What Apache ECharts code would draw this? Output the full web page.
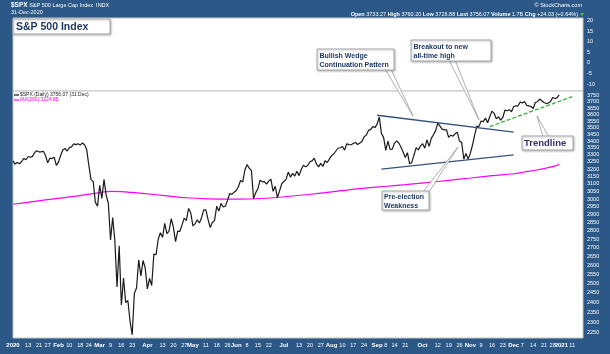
<!DOCTYPE html>
<html><head><meta charset="utf-8">
<script src="https://cdn.jsdelivr.net/npm/echarts@6/dist/echarts.min.js"></script>
<style>html,body{margin:0;padding:0;background:#2b5886}#c{width:610px;height:354px}</style>
</head><body><div id="c"></div>
<script>
// ---- trading days (day-of-month per month) ----
const janDays=[2,3,6,7,8,9,10,13,14,15,16,17,21,22,23,24,27,28,29,30,31];
const febDays=[3,4,5,6,7,10,11,12,13,14,18,19,20,21,24,25,26,27,28];
const marDays=[2,3,4,5,6,9,10,11,12,13,16,17,18,19,20,23,24,25,26,27,30,31];
const aprDays=[1,2,3,6,7,8,9,13,14,15,16,17,20,21,22,23,24,27,28,29,30];
const mayDays=[1,4,5,6,7,8,11,12,13,14,15,18,19,20,21,22,26,27,28,29];
const junDays=[1,2,3,4,5,8,9,10,11,12,15,16,17,18,19,22,23,24,25,26,29,30];
const julDays=[1,2,6,7,8,9,10,13,14,15,16,17,20,21,22,23,24,27,28,29,30,31];
const augDays=[3,4,5,6,7,10,11,12,13,14,17,18,19,20,21,24,25,26,27,28,31];
const sepDays=[1,2,3,4,8,9,10,11,14,15,16,17,18,21,22,23,24,25,28,29,30];
const octDays=[1,2,5,6,7,8,9,12,13,14,15,16,19,20,21,22,23,26,27,28,29,30];
const novDays=[2,3,4,5,6,9,10,11,12,13,16,17,18,19,20,23,24,25,27,30];
const decDays=[1,2,3,4,7,8,9,10,11,14,15,16,17,18,21,22,23,24,28,29,30,31];
const jan2021Days=[4,5,6,7,8,11,12,13,14,15,19];

// ---- $SPX daily closes ----
const closeJan=[3257.85,3234.85,3246.28,3237.18,3253.05,3274.70,3265.35,3288.13,3283.15,3289.29,3316.81,3329.62,3320.79,3321.75,3325.54,3295.47,3243.63,3276.24,3273.40,3283.66,3225.52];
const closeFeb=[3248.92,3297.59,3334.69,3345.78,3327.71,3352.09,3357.75,3379.45,3373.94,3380.16,3370.29,3386.15,3373.23,3337.75,3225.89,3128.21,3116.39,2978.76,2954.22];
const closeMar=[3090.23,3003.37,3130.12,3023.94,2972.37,2746.56,2882.23,2741.38,2480.64,2711.02,2386.13,2529.19,2398.10,2409.39,2304.92,2237.40,2447.33,2475.56,2630.07,2541.47,2626.65,2584.59];
const closeApr=[2470.50,2526.90,2488.65,2663.68,2659.41,2749.98,2789.82,2761.63,2846.06,2783.36,2799.55,2874.56,2823.16,2736.56,2799.31,2797.80,2836.74,2878.48,2863.39,2939.51,2912.43];
const closeMay=[2830.71,2842.74,2868.44,2848.42,2881.19,2929.80,2930.19,2870.12,2820.00,2852.50,2863.70,2953.91,2922.94,2971.61,2948.51,2955.45,2991.77,3036.13,3029.73,3044.31];
const closeJun=[3055.73,3080.82,3122.87,3112.35,3193.93,3232.39,3207.18,3190.14,3002.10,3041.31,3066.59,3124.74,3113.49,3115.34,3097.74,3117.86,3131.29,3050.33,3083.76,3009.05,3053.24,3100.29];
const closeJul=[3115.86,3130.01,3179.72,3145.32,3169.94,3152.05,3185.04,3155.22,3197.52,3226.56,3215.57,3224.73,3251.84,3257.30,3276.02,3235.66,3215.63,3239.41,3218.44,3258.44,3246.22,3271.12];
const closeAug=[3294.61,3306.51,3327.77,3349.16,3351.28,3360.47,3333.69,3380.35,3373.43,3372.85,3381.99,3389.78,3374.85,3385.51,3397.16,3431.28,3443.62,3478.73,3484.55,3508.01,3500.31];
const closeSep=[3526.65,3580.84,3455.06,3426.96,3331.84,3398.96,3339.19,3340.97,3383.54,3401.20,3385.49,3357.01,3319.47,3281.06,3315.57,3236.92,3246.59,3298.46,3351.60,3335.47,3363.00];
const closeOct=[3380.80,3348.42,3408.63,3360.97,3419.44,3446.83,3477.14,3534.22,3511.93,3488.67,3483.34,3483.81,3426.92,3443.12,3435.56,3453.49,3465.39,3400.97,3390.68,3271.03,3310.11,3269.96];
const closeNov=[3310.24,3369.16,3443.44,3510.45,3509.44,3550.50,3545.53,3572.66,3537.01,3585.15,3626.91,3609.53,3567.79,3581.87,3557.54,3577.59,3635.41,3629.65,3638.35,3621.63];
const closeDec=[3662.45,3669.01,3666.72,3699.12,3691.96,3702.25,3672.82,3668.10,3663.46,3647.49,3694.62,3701.17,3722.48,3709.41,3694.92,3687.26,3690.01,3703.06,3735.36,3727.04,3732.04,3756.07];

// ---- MA(200) ----
const maDates=["2020-01-02","2020-01-16","2020-01-31","2020-02-14","2020-03-02","2020-03-09","2020-03-16","2020-03-30","2020-04-14","2020-04-28","2020-05-12","2020-05-27","2020-06-10","2020-06-24","2020-07-09","2020-07-23","2020-08-06","2020-08-20","2020-09-04","2020-09-21","2020-10-05","2020-10-19","2020-11-02","2020-11-16","2020-12-01","2020-12-08","2020-12-15","2020-12-22","2020-12-30","2020-12-31"];
const maValues=[2966,2985,3003,3020,3042,3050,3048,3036,3022,3008,3001,2999,3000,3008,3021,3035,3052,3068,3082,3094,3108,3123,3139,3155,3168,3180,3192,3207,3226,3236];

// ---- annotations (data coordinates) ----
const wedgeUpper=[["2020-09-01",3595],["2020-12-01",3466]];
const wedgeLower=[["2020-09-03",3200],["2020-12-01",3300]];
const trendLine=[["2020-11-13",3508],["2021-01-11",3742]];

// ---- tick labels ----
const priceTicks=[2250,2300,2350,2400,2450,2500,2550,2600,2650,2700,2750,2800,2850,2900,2950,3000,3050,3100,3150,3200,3250,3300,3350,3400,3450,3500,3550,3600,3650,3700,3750];
const upperTicks=[-10,-5,0,5,10,15,20];
const xTickDates=["2020-01-02","2020-01-13","2020-01-21","2020-01-27","2020-02-03","2020-02-10","2020-02-18","2020-02-24","2020-03-02","2020-03-09","2020-03-16","2020-03-23","2020-04-01","2020-04-13","2020-04-20","2020-04-27","2020-05-01","2020-05-11","2020-05-18","2020-05-26","2020-06-01","2020-06-08","2020-06-15","2020-06-22","2020-07-01","2020-07-13","2020-07-20","2020-07-27","2020-08-03","2020-08-10","2020-08-17","2020-08-24","2020-09-01","2020-09-08","2020-09-14","2020-09-21","2020-10-01","2020-10-12","2020-10-19","2020-10-26","2020-11-02","2020-11-09","2020-11-16","2020-11-23","2020-12-01","2020-12-07","2020-12-14","2020-12-21","2020-12-28","2021-01-04","2021-01-11"];
const xTickLabels=["2020","13","21","27","Feb","10","18","24","Mar","9","16","23","Apr","13","20","27","May","11","18","26","Jun","8","15","22","Jul","13","20","27","Aug","10","17","24","Sep","8","14","21","Oct","12","19","26","Nov","9","16","23","Dec","7","14","21","28","2021","11"];

// ---- build ----
const pad=n=>String(n).padStart(2,'0');
const monthDays=[janDays,febDays,marDays,aprDays,mayDays,junDays,julDays,augDays,sepDays,octDays,novDays,decDays];
const cats=[];
monthDays.forEach((ds,m)=>ds.forEach(d=>cats.push('2020-'+pad(m+1)+'-'+pad(d))));
jan2021Days.forEach(d=>cats.push('2021-01-'+pad(d)));
const closes=[].concat(closeJan,closeFeb,closeMar,closeApr,closeMay,closeJun,closeJul,closeAug,closeSep,closeOct,closeNov,closeDec);
const maData=maDates.map((d,i)=>[d,maValues[i]]);
const labelMap={};
xTickDates.forEach((d,i)=>labelMap[d]=xTickLabels[i]);

const FF='"Liberation Sans", Arial, sans-serif';
const NAVY='#1f3a66';
const chart=echarts.init(document.getElementById('c'),null,{renderer:'canvas'});

function box(x,y,w,h){return {type:'rect',z:20,shape:{x:x,y:y,width:w,height:h},style:{fill:'#fff',stroke:'#a8a8a8',lineWidth:1,shadowBlur:2,shadowOffsetX:1,shadowOffsetY:1,shadowColor:'rgba(0,0,0,0.25)'}};}
function txt(l,t,s,o){return Object.assign({type:'text',z:21,left:l,top:t,style:Object.assign({text:s,fontFamily:FF,fill:NAVY,fontSize:7,fontWeight:'bold',lineHeight:9},o||{})});}
function ptr(pts){return {type:'polygon',z:19,shape:{points:pts},style:{fill:'#fff',stroke:'#9a9a9a',lineWidth:0.8}};}

chart.setOption({
  animation:false,
  backgroundColor:'#2b5886',
  grid:[
    {left:13,right:27,top:18,height:73,show:true,backgroundColor:'#fff',borderColor:'#c4c4c4',borderWidth:1},
    {left:13,right:27,top:91,bottom:16,show:true,backgroundColor:'#fff',borderColor:'#c4c4c4',borderWidth:1}
  ],
  xAxis:[
    {type:'category',gridIndex:0,data:cats,boundaryGap:false,show:false},
    {type:'category',gridIndex:1,data:cats,boundaryGap:false,
     axisLine:{show:false},axisTick:{show:false},splitLine:{show:false},
     axisLabel:{margin:4,interval:(i,v)=>labelMap[v]!==undefined,
       formatter:v=>{const t=labelMap[v];return (/^[A-Z]/.test(t)||/^\d{4}$/.test(t))?'{b|'+t+'}':'{n|'+t+'}';},
       rich:{b:{color:'#fff',fontSize:6,fontWeight:'bold',fontFamily:FF},n:{color:'#fff',fontSize:5.5,fontFamily:FF}}}}
  ],
  yAxis:[
    {type:'value',gridIndex:0,position:'right',min:-13.3,max:21.3,
     axisLine:{show:false},axisTick:{show:false},splitLine:{show:false},
     axisLabel:{customValues:upperTicks,color:'#fff',fontSize:5.5,margin:4,fontFamily:FF,formatter:v=>String(v)}},
    {type:'log',gridIndex:1,position:'right',min:2222,max:3788,
     axisLine:{show:false},axisTick:{show:false},splitLine:{show:false},
     axisLabel:{customValues:priceTicks,color:'#fff',fontSize:5.5,margin:4,fontFamily:FF,formatter:v=>String(Math.round(v))}}
  ],
  series:[
    {type:'line',xAxisIndex:0,yAxisIndex:0,data:[],silent:true},
    {type:'line',name:'MA(200)',xAxisIndex:1,yAxisIndex:1,data:maData,showSymbol:false,smooth:0.3,lineStyle:{color:'#ff00ff',width:1.2},z:3},
    {type:'line',name:'$SPX',xAxisIndex:1,yAxisIndex:1,data:closes,showSymbol:false,lineStyle:{color:'#1a1a1a',width:1.2},z:4},
    {type:'line',xAxisIndex:1,yAxisIndex:1,data:wedgeUpper,showSymbol:false,lineStyle:{color:'#34527f',width:1.4},z:5},
    {type:'line',xAxisIndex:1,yAxisIndex:1,data:wedgeLower,showSymbol:false,lineStyle:{color:'#34527f',width:1.4},z:5},
    {type:'line',xAxisIndex:1,yAxisIndex:1,data:trendLine,showSymbol:false,lineStyle:{color:'#3aae3a',width:1.3,type:[4,2]},z:5}
  ],
  graphic:[
    {type:'text',left:11,top:2,style:{text:'{b|$SPX} S&P 500 Large Cap Index  INDX',fill:'#fff',fontSize:5.5,fontFamily:FF,rich:{b:{fill:'#fff',fontSize:6.5,fontWeight:'bold',fontFamily:FF}}}},
    {type:'text',left:11,top:9.5,style:{text:'31-Dec-2020',fill:'#fff',fontSize:5.5,fontFamily:FF}},
    {type:'text',right:28,top:2.5,style:{text:'© StockCharts.com',fill:'#fff',fontSize:5.5,fontFamily:FF}},
    {type:'text',right:32,top:11.5,style:{text:'{b|Open} 3733.27 {b|High} 3760.20 {b|Low} 3726.88 {b|Last} 3756.07 {b|Volume} 1.7B {b|Chg} +24.03 (+0.64%)',fill:'#fff',fontSize:5.5,fontFamily:FF,rich:{b:{fill:'#fff',fontSize:5.5,fontWeight:'bold',fontFamily:FF}}}},
    {type:'polygon',shape:{points:[[580,13],[584,13],[582,16.5]]},style:{fill:'#3cc23c'}},
    box(13,19,97,15),
    txt(16,21.5,'S&P 500 Index',{fontSize:10.5,lineHeight:12}),
    {type:'line',z:21,shape:{x1:14,y1:95,x2:19,y2:95},style:{stroke:'#111',lineWidth:1.2}},
    {type:'text',z:21,left:20,top:92.3,style:{text:'$SPX (Daily) 3756.07 (31 Dec)',fill:'#222',fontSize:5,fontFamily:FF}},
    {type:'line',z:21,shape:{x1:14,y1:100,x2:19,y2:100},style:{stroke:'#ff00ff',lineWidth:1.2}},
    {type:'text',z:21,left:20,top:97.3,style:{text:'MA(200) 3224.85',fill:'#ff00ff',fontSize:5,fontFamily:FF}},
    ptr([[385,69],[391,69],[413,116]]),
    box(317,49,77,21),
    txt(319.5,51.5,'Bullish Wedge\nContinuation Pattern'),
    ptr([[449,60],[455,60],[479,120]]),
    box(411,40,80,21),
    txt(413.5,42.5,'Breakout to new\nall-time high'),
    ptr([[423,192],[429,192],[458,147]]),
    box(382,191,47,19),
    txt(384,192.5,'Pre-election\nWeakness'),
    ptr([[543,137],[549,137],[537,116]]),
    box(522,136,51,14),
    txt(524,137.5,'Trendline',{fontSize:9.5,lineHeight:11,fill:'#3a2f66'})
  ]
});
</script></body></html>
